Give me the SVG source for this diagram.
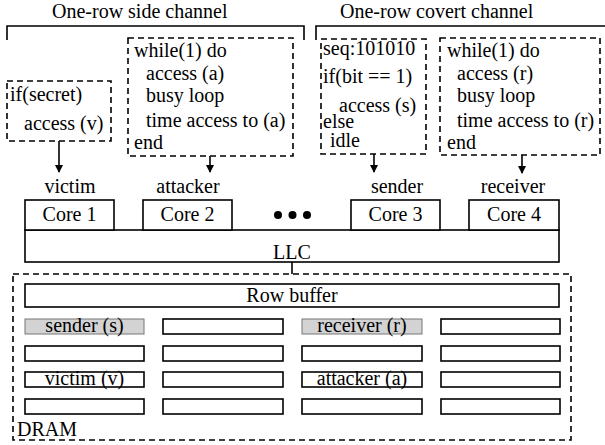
<svg xmlns="http://www.w3.org/2000/svg" width="605" height="445" viewBox="0 0 605 445" font-family="'Liberation Serif', 'Times New Roman', 'DejaVu Serif', serif">
<defs>
<marker id="ah" markerWidth="8" markerHeight="8" refX="7" refY="4" orient="auto" markerUnits="userSpaceOnUse">
<path d="M0,0 L8,4 L0,8 Z" fill="#000"/>
</marker>
<style>
text{font-family:'Liberation Serif','Times New Roman','DejaVu Serif',serif;font-size:20px;fill:#000}
.c{text-anchor:middle}
.box{fill:#fff;stroke:#000;stroke-width:1.6}
.dash{fill:none;stroke:#000;stroke-width:1.6;stroke-dasharray:6,4}
.cell{fill:#fff;stroke:#000;stroke-width:1.6}
.gcell{fill:#d3d3d3;stroke:#777;stroke-width:1}
.ln{fill:none;stroke:#000;stroke-width:1.6}
</style>
</defs>
<rect width="605" height="445" fill="#fff"/>

<g id="side-channel-bracket">
<path class="ln" d="M7,40 V26 H304 V40"/>
<text x="52" y="18">One-row side channel</text>
</g>
<g id="covert-channel-bracket">
<path class="ln" d="M316,40 V26 H606"/>
<text x="340" y="18">One-row covert channel</text>
</g>

<g id="victim-code">
<rect class="dash" x="7" y="81" width="104" height="60"/>
<text x="10" y="101">if(secret)</text>
<text x="24" y="130">access (v)</text>
</g>
<g id="attacker-code">
<rect class="dash" x="128" y="38" width="165" height="118"/>
<text x="134" y="57">while(1) do</text>
<text x="146" y="80">access (a)</text>
<text x="146" y="102">busy loop</text>
<text x="146" y="127">time access to (a)</text>
<text x="134" y="149">end</text>
</g>
<g id="sender-code">
<rect class="dash" x="321" y="39" width="105" height="115"/>
<text x="323" y="55">seq:101010</text>
<text x="323" y="83">if(bit == 1)</text>
<text x="339" y="112">access (s)</text>
<text x="323" y="128">else</text>
<text x="330" y="147">idle</text>
</g>
<g id="receiver-code">
<rect class="dash" x="440" y="38" width="160" height="117"/>
<text x="447" y="57">while(1) do</text>
<text x="457" y="80">access (r)</text>
<text x="457" y="102">busy loop</text>
<text x="457" y="127">time access to (r)</text>
<text x="447" y="149">end</text>
</g>

<g id="labels">
<text class="c" x="70" y="193">victim</text>
<text class="c" x="188" y="193">attacker</text>
<text class="c" x="397" y="193">sender</text>
<text class="c" x="513" y="193">receiver</text>
</g>

<g id="llc">
<rect class="box" x="25" y="230" width="534" height="32"/>
<text class="c" x="292" y="259">LLC</text>
</g>
<g id="core1"><rect class="box" x="25" y="200" width="89" height="30"/><text class="c" x="69.5" y="221">Core 1</text></g>
<g id="core2"><rect class="box" x="143" y="200" width="89" height="30"/><text class="c" x="187.5" y="221">Core 2</text></g>
<g id="core3"><rect class="box" x="351" y="200" width="89" height="30"/><text class="c" x="395.5" y="221">Core 3</text></g>
<g id="core4"><rect class="box" x="469" y="200" width="90" height="30"/><text class="c" x="514" y="221">Core 4</text></g>
<g id="dots">
<circle cx="278" cy="215" r="4"/>
<circle cx="292.5" cy="215" r="4"/>
<circle cx="307" cy="215" r="4"/>
</g>

<g id="dram">
<rect class="dash" x="13" y="274" width="558" height="166"/>
<text x="17" y="436">DRAM</text>
</g>
<g id="row-buffer">
<rect class="box" x="25" y="284" width="534" height="23"/>
<text class="c" x="292" y="302">Row buffer</text>
</g>
<g id="rows">
<rect class="gcell" x="25" y="319" width="119" height="15"/>
<rect class="cell" x="163" y="319" width="120" height="15"/>
<rect class="gcell" x="302" y="319" width="120" height="15"/>
<rect class="cell" x="441" y="319" width="119" height="15"/>
<rect class="cell" x="25" y="346" width="119" height="15"/>
<rect class="cell" x="163" y="346" width="120" height="15"/>
<rect class="cell" x="302" y="346" width="120" height="15"/>
<rect class="cell" x="441" y="346" width="119" height="15"/>
<rect class="cell" x="25" y="372" width="119" height="15"/>
<rect class="cell" x="163" y="372" width="120" height="15"/>
<rect class="cell" x="302" y="372" width="120" height="15"/>
<rect class="cell" x="441" y="372" width="119" height="15"/>
<rect class="cell" x="25" y="399" width="119" height="15"/>
<rect class="cell" x="163" y="399" width="120" height="15"/>
<rect class="cell" x="302" y="399" width="120" height="15"/>
<rect class="cell" x="441" y="399" width="119" height="15"/>
<text class="c" x="84.5" y="332">sender (s)</text>
<text class="c" x="362" y="332">receiver (r)</text>
<text class="c" x="84.5" y="385">victim (v)</text>
<text class="c" x="362" y="385">attacker (a)</text>
</g>

<g id="connectors">
<line class="ln" x1="59" y1="141" x2="59" y2="172" marker-end="url(#ah)"/>
<line class="ln" x1="210" y1="156" x2="210" y2="172" marker-end="url(#ah)"/>
<line class="ln" x1="374" y1="154" x2="374" y2="172" marker-end="url(#ah)"/>
<line class="ln" x1="522" y1="155" x2="522" y2="173" marker-end="url(#ah)"/>
<line class="ln" x1="292" y1="262" x2="292" y2="274"/>
</g>
</svg>
